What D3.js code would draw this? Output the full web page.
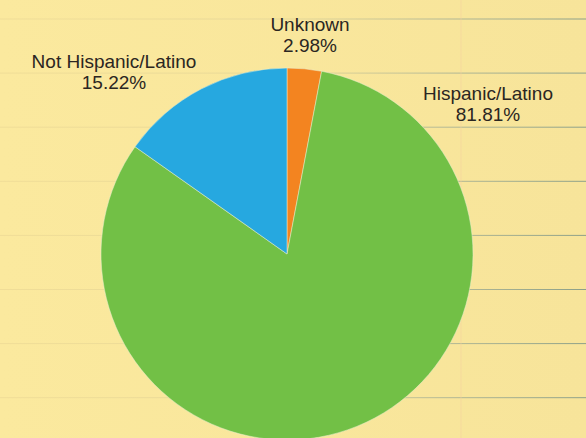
<!DOCTYPE html>
<html>
<head>
<meta charset="utf-8">
<script src="https://cdn.jsdelivr.net/npm/d3@7"></script>
<style>
  html, body { margin: 0; padding: 0; background: #fae89d; }
  svg { display: block; }
</style>
</head>
<body>
<div id="app"></div>
<script>
// data
var categories = ['Unknown', 'Hispanic/Latino', 'Not Hispanic/Latino'];
var values = [2.98, 81.81, 15.22];
var valueLabels = ['2.98%', '81.81%', '15.22%'];
var colors = ['#f38420', '#72c046', '#26a8e0'];

var width = 586, height = 438;
var cx = 287, cy = 254, radius = 186;

var svg = d3.select('#app')
  .append('svg')
    .attr('width', width)
    .attr('height', height);

// notebook paper background
var defs = svg.append('defs');
var grad = defs.append('linearGradient')
    .attr('id', 'ruleFade')
    .attr('gradientUnits', 'userSpaceOnUse')
    .attr('x1', 0).attr('x2', width).attr('y1', 0).attr('y2', 0);
grad.append('stop').attr('offset', '0%').attr('stop-color', '#eedb96');
grad.append('stop').attr('offset', '50%').attr('stop-color', '#e4d697');
grad.append('stop').attr('offset', '75%').attr('stop-color', '#a9b294');
grad.append('stop').attr('offset', '100%').attr('stop-color', '#7a9486');

var paper = defs.append('linearGradient')
    .attr('id', 'paper')
    .attr('x1', 0).attr('x2', 1).attr('y1', 0).attr('y2', 0);
paper.append('stop').attr('offset', '0%').attr('stop-color', '#fbe99e');
paper.append('stop').attr('offset', '100%').attr('stop-color', '#f7e49a');

svg.append('rect')
    .attr('width', width)
    .attr('height', height)
    .attr('fill', 'url(#paper)');

var ruleY = d3.range(0, 8).map(function(i) { return 19 + i * 54.1; });
svg.append('g')
    .attr('class', 'rules')
  .selectAll('line')
    .data(ruleY)
  .enter().append('line')
    .attr('x1', 0)
    .attr('x2', width)
    .attr('y1', function(d) { return d; })
    .attr('y2', function(d) { return d; })
    .attr('stroke', 'url(#ruleFade)')
    .attr('stroke-width', 1)
    .attr('stroke-opacity', 0.85);

svg.append('line')
    .attr('x1', 461).attr('x2', 461)
    .attr('y1', 0).attr('y2', height)
    .attr('stroke', '#f2cfa0')
    .attr('stroke-width', 2)
    .attr('stroke-opacity', 0.25);

// pie
var pie = d3.pie().sort(null).value(function(d) { return d; });
var arc = d3.arc().innerRadius(0).outerRadius(radius);

var chart = svg.append('g')
    .attr('class', 'chart')
    .attr('transform', 'translate(' + cx + ',' + cy + ')');

chart.selectAll('path')
    .data(pie(values))
  .enter().append('path')
    .attr('d', arc)
    .attr('fill', function(d, i) { return colors[i]; })
    .attr('stroke', '#e8eed0')
    .attr('stroke-width', 0.5);

// labels
var labelX = [310, 488, 114];
var labelY = [31, 100, 68];

var labels = svg.append('g')
    .attr('font-family', 'Liberation Sans, Arial, sans-serif')
    .attr('font-size', 19)
    .attr('fill', '#2b2622')
    .attr('text-anchor', 'middle');

labels.selectAll('text.name')
    .data(categories)
  .enter().append('text')
    .attr('class', 'name')
    .attr('x', function(d, i) { return labelX[i]; })
    .attr('y', function(d, i) { return labelY[i]; })
    .text(function(d) { return d; });

labels.selectAll('text.pct')
    .data(valueLabels)
  .enter().append('text')
    .attr('class', 'pct')
    .attr('x', function(d, i) { return labelX[i]; })
    .attr('y', function(d, i) { return labelY[i] + 20.5; })
    .text(function(d) { return d; });
</script>
</body>
</html>
